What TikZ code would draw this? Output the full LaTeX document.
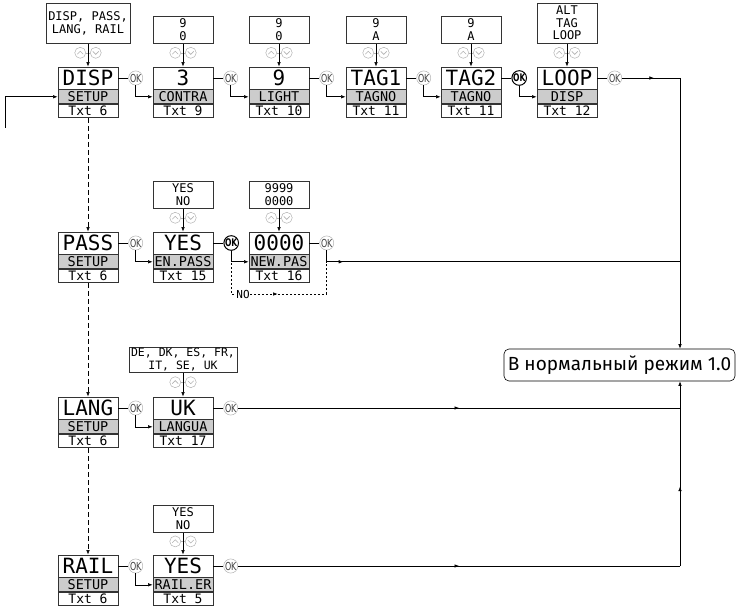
\documentclass[tikz,border=0pt]{standalone}
\usepackage{fontspec}
\setmainfont{Fira Sans}
\newfontfamily\lcdfont{DejaVu Sans Mono}
\newfontfamily\okfont[FakeStretch=0.72]{DejaVu Sans}
\usetikzlibrary{positioning, arrows.meta, calc, decorations.markings}

\begin{document}
\begin{tikzpicture}[
  x=1pt, y=-1pt,
  >={Latex[length=4.5pt, width=3.5pt]},
  line width=0.6pt,
  lcd/.style={draw=black!80, line width=0.8pt, minimum width=60pt, minimum height=22pt, inner sep=0pt, font=\lcdfont\fontsize{21}{21}\selectfont},
  lcdmid/.style={lcd, fill=gray!40, minimum height=14pt, font=\lcdfont\fontsize{13.5}{13.5}\selectfont},
  lcdtxt/.style={lcd, minimum height=13pt, font=\lcdfont\fontsize{13}{13}\selectfont},
  opt/.style={draw=black!80, line width=0.8pt, align=center, minimum width=60pt, minimum height=27pt, inner sep=1pt, font=\lcdfont\fontsize{12}{12.5}\selectfont},
  key/.style={circle, draw=gray!60, line width=0.5pt, minimum size=11pt, inner sep=0pt},
  upkey/.style={key, path picture={
    % up chevron
    \draw[gray!60, line width=0.6pt] ([xshift=-3pt,yshift=-1.4pt]path picture bounding box.center) -- ++(3pt,3pt) -- ++(3pt,-3pt);
  }},
  downkey/.style={key, path picture={
    % down chevron
    \draw[gray!60, line width=0.6pt] ([xshift=-3pt,yshift=1.4pt]path picture bounding box.center) -- ++(3pt,-3pt) -- ++(3pt,3pt);
  }},
  ok/.style={circle, draw=gray!60, line width=0.5pt, minimum size=14pt, inner sep=0pt, text=black!75, font=\okfont\fontsize{11}{11}\selectfont},
  okbold/.style={ok, draw=black, line width=1pt, text=black, font=\okfont\bfseries\fontsize{10.5}{10.5}\selectfont},
  setupdash/.style={dash pattern=on 5pt off 3pt},
  nodash/.style={dash pattern=on 2pt off 2pt},
  nolabel/.style={fill=white, inner sep=0.5pt, font=\lcdfont\fontsize{11}{11}\selectfont},
  exit/.style={draw, rounded corners=5pt, minimum width=231pt, minimum height=32pt, inner sep=2pt, font=\fontsize{19}{19}\selectfont},
  midarrow/.style={postaction={decorate}, decoration={markings, mark=at position #1 with {\arrow{Latex[length=4.5pt, width=3.5pt]}}}}
]
\useasboundingbox (0,0) rectangle (736,609);

% DISP block
\node[lcd] (disp) at (88,78) {DISP};
\node[lcdmid, below=0pt of disp] (dispm) {SETUP};
\node[lcdtxt, below=0pt of dispm] (dispt) {Txt 6};
\node[opt, minimum width=84pt, minimum height=40pt, above=23pt of disp] (dispo) {DISP, PASS,\\LANG, RAIL};
\coordinate (dispk) at ($(dispo.south)!0.4!(disp.north)$);
\node[upkey, left=2pt of dispk] (dispu) {};
\node[downkey, right=2pt of dispk] (dispd) {};
\draw[gray!60, line width=0.5pt] (dispu) -- (dispd);
\draw[->] (dispo) -- (disp);
\node[ok, right=10pt of disp] (dispok) {OK};
\draw (disp) -- (dispok);

% CONTRA block
\node[lcd] (contra) at (183,78) {3};
\node[lcdmid, below=0pt of contra] (contram) {CONTRA};
\node[lcdtxt, below=0pt of contram] (contrat) {Txt 9};
\node[opt, above=23pt of contra] (contrao) {9\\0};
\coordinate (contrak) at ($(contrao.south)!0.4!(contra.north)$);
\node[upkey, left=2pt of contrak] (contrau) {};
\node[downkey, right=2pt of contrak] (contrad) {};
\draw[gray!60, line width=0.5pt] (contrau) -- (contrad);
\draw[->] (contrao) -- (contra);
\node[ok, right=10pt of contra] (contraok) {OK};
\draw (contra) -- (contraok);

% LIGHT block
\node[lcd] (light) at (279,78) {9};
\node[lcdmid, below=0pt of light] (lightm) {LIGHT};
\node[lcdtxt, below=0pt of lightm] (lightt) {Txt 10};
\node[opt, above=23pt of light] (lighto) {9\\0};
\coordinate (lightk) at ($(lighto.south)!0.4!(light.north)$);
\node[upkey, left=2pt of lightk] (lightu) {};
\node[downkey, right=2pt of lightk] (lightd) {};
\draw[gray!60, line width=0.5pt] (lightu) -- (lightd);
\draw[->] (lighto) -- (light);
\node[ok, right=10pt of light] (lightok) {OK};
\draw (light) -- (lightok);

% TAG1 block
\node[lcd] (tagone) at (376,78) {TAG1};
\node[lcdmid, below=0pt of tagone] (tagonem) {TAGNO};
\node[lcdtxt, below=0pt of tagonem] (tagonet) {Txt 11};
\node[opt, above=23pt of tagone] (tagoneo) {9\\A};
\coordinate (tagonek) at ($(tagoneo.south)!0.4!(tagone.north)$);
\node[upkey, left=2pt of tagonek] (tagoneu) {};
\node[downkey, right=2pt of tagonek] (tagoned) {};
\draw[gray!60, line width=0.5pt] (tagoneu) -- (tagoned);
\draw[->] (tagoneo) -- (tagone);
\node[ok, right=10pt of tagone] (tagoneok) {OK};
\draw (tagone) -- (tagoneok);

% TAG2 block
\node[lcd] (tagtwo) at (471,78) {TAG2};
\node[lcdmid, below=0pt of tagtwo] (tagtwom) {TAGNO};
\node[lcdtxt, below=0pt of tagtwom] (tagtwot) {Txt 11};
\node[opt, above=23pt of tagtwo] (tagtwoo) {9\\A};
\coordinate (tagtwok) at ($(tagtwoo.south)!0.4!(tagtwo.north)$);
\node[upkey, left=2pt of tagtwok] (tagtwou) {};
\node[downkey, right=2pt of tagtwok] (tagtwod) {};
\draw[gray!60, line width=0.5pt] (tagtwou) -- (tagtwod);
\draw[->] (tagtwoo) -- (tagtwo);
\node[okbold, right=10pt of tagtwo] (tagtwook) {OK};
\draw (tagtwo) -- (tagtwook);

% LOOP block
\node[lcd] (loop) at (567,78) {LOOP};
\node[lcdmid, below=0pt of loop] (loopm) {DISP};
\node[lcdtxt, below=0pt of loopm] (loopt) {Txt 12};
\node[opt, minimum height=40pt, above=23pt of loop] (loopo) {ALT\\TAG\\LOOP};
\coordinate (loopk) at ($(loopo.south)!0.4!(loop.north)$);
\node[upkey, left=2pt of loopk] (loopu) {};
\node[downkey, right=2pt of loopk] (loopd) {};
\draw[gray!60, line width=0.5pt] (loopu) -- (loopd);
\draw[->] (loopo) -- (loop);
\node[ok, right=10pt of loop] (loopok) {OK};
\draw (loop) -- (loopok);

% PASS block
\node[lcd] (pass) at (88,243) {PASS};
\node[lcdmid, below=0pt of pass] (passm) {SETUP};
\node[lcdtxt, below=0pt of passm] (passt) {Txt 6};
\node[ok, right=10pt of pass] (passok) {OK};
\draw (pass) -- (passok);

% EN.PASS block
\node[lcd] (enpass) at (183,243) {YES};
\node[lcdmid, below=0pt of enpass] (enpassm) {EN.PASS};
\node[lcdtxt, below=0pt of enpassm] (enpasst) {Txt 15};
\node[opt, above=23pt of enpass] (enpasso) {YES\\NO};
\coordinate (enpassk) at ($(enpasso.south)!0.4!(enpass.north)$);
\node[upkey, left=2pt of enpassk] (enpassu) {};
\node[downkey, right=2pt of enpassk] (enpassd) {};
\draw[gray!60, line width=0.5pt] (enpassu) -- (enpassd);
\draw[->] (enpasso) -- (enpass);
\node[okbold, right=10pt of enpass] (enpassok) {OK};
\draw (enpass) -- (enpassok);

% NEW.PAS block
\node[lcd] (newpas) at (279,243) {0000};
\node[lcdmid, below=0pt of newpas] (newpasm) {NEW.PAS};
\node[lcdtxt, below=0pt of newpasm] (newpast) {Txt 16};
\node[opt, above=23pt of newpas] (newpaso) {9999\\0000};
\coordinate (newpask) at ($(newpaso.south)!0.4!(newpas.north)$);
\node[upkey, left=2pt of newpask] (newpasu) {};
\node[downkey, right=2pt of newpask] (newpasd) {};
\draw[gray!60, line width=0.5pt] (newpasu) -- (newpasd);
\draw[->] (newpaso) -- (newpas);
\node[ok, right=10pt of newpas] (newpasok) {OK};
\draw (newpas) -- (newpasok);

% LANG block
\node[lcd] (lang) at (88,408) {LANG};
\node[lcdmid, below=0pt of lang] (langm) {SETUP};
\node[lcdtxt, below=0pt of langm] (langt) {Txt 6};
\node[ok, right=10pt of lang] (langok) {OK};
\draw (lang) -- (langok);

% LANGUA block
\node[lcd] (langua) at (183,408) {UK};
\node[lcdmid, below=0pt of langua] (languam) {LANGUA};
\node[lcdtxt, below=0pt of languam] (languat) {Txt 17};
\node[opt, minimum width=108pt, minimum height=25pt, above=24pt of langua, font=\lcdfont\fontsize{11.5}{12.5}\selectfont] (languao) {DE, DK, ES, FR,\\IT, SE, UK};
\coordinate (languak) at ($(languao.south)!0.4!(langua.north)$);
\node[upkey, left=2pt of languak] (languau) {};
\node[downkey, right=2pt of languak] (languad) {};
\draw[gray!60, line width=0.5pt] (languau) -- (languad);
\draw[->] (languao) -- (langua);
\node[ok, right=10pt of langua] (languaok) {OK};
\draw (langua) -- (languaok);

% RAIL block
\node[lcd] (rail) at (88,566) {RAIL};
\node[lcdmid, below=0pt of rail] (railm) {SETUP};
\node[lcdtxt, below=0pt of railm] (railt) {Txt 6};
\node[ok, right=10pt of rail] (railok) {OK};
\draw (rail) -- (railok);

% RAIL.ER block
\node[lcd] (railer) at (183,566) {YES};
\node[lcdmid, below=0pt of railer] (railerm) {RAIL.ER};
\node[lcdtxt, below=0pt of railerm] (railert) {Txt 5};
\node[opt, above=22pt of railer] (railero) {YES\\NO};
\coordinate (railerk) at ($(railero.south)!0.4!(railer.north)$);
\node[upkey, left=2pt of railerk] (raileru) {};
\node[downkey, right=2pt of railerk] (railerd) {};
\draw[gray!60, line width=0.5pt] (raileru) -- (railerd);
\draw[->] (railero) -- (railer);
\node[ok, right=10pt of railer] (railerok) {OK};
\draw (railer) -- (railerok);

% exit box
\node[exit] (exit) at (619.5,365) {В нормальный режим 1.0};
\coordinate (jx) at (680,0);

% entry
\coordinate (entry) at (5,128);
\draw[->] (entry) |- (dispm.west);

% top row chain
\draw[->] (dispok.south) |- (contram.west);
\draw[->] (contraok.south) |- (lightm.west);
\draw[->] (lightok.south) |- (tagonem.west);
\draw[->] (tagoneok.south) |- (tagtwom.west);
\draw[->] (tagtwook.south) |- (loopm.west);
\coordinate (jtop) at (loopok.east -| jx);
\draw[midarrow=0.55] (loopok.east) -- (jtop);
\draw[->] (jtop) -- (exit.north -| jx);

% SETUP menu
\draw[->, setupdash] (dispt) -- (pass);
\draw[->, setupdash] (passt) -- (lang);
\draw[->, setupdash] (langt) -- (rail);

% PASS row
\draw[->] (passok.south) |- (enpassm.west);
\draw[->] (enpassok.south) |- (newpasm.west);
\coordinate (jpass) at (newpasm -| jx);
\draw[midarrow=28pt] (newpasok.south) |- (jpass);
\node[nolabel] (no) at (243,294) {NO};
\draw[nodash] (enpassok.south) |- (no.west);
\draw[nodash, midarrow=0.25] (no.east) -| (newpasok.south |- newpasm.west);

% LANG row
\draw[->] (langok.south) |- (languam.west);
\coordinate (jlang) at (languaok.east -| jx);
\draw[midarrow=0.5] (languaok.east) -- (jlang);

% RAIL row
\draw[->] (railok.south) |- (railerm.west);
\coordinate (jrail) at (railerok.east -| jx);
\draw[midarrow=0.5] (railerok.east) -- (jrail);
\draw[->, midarrow=0.43] (jrail) -- (exit.south -| jx);

\end{tikzpicture}
\end{document}
